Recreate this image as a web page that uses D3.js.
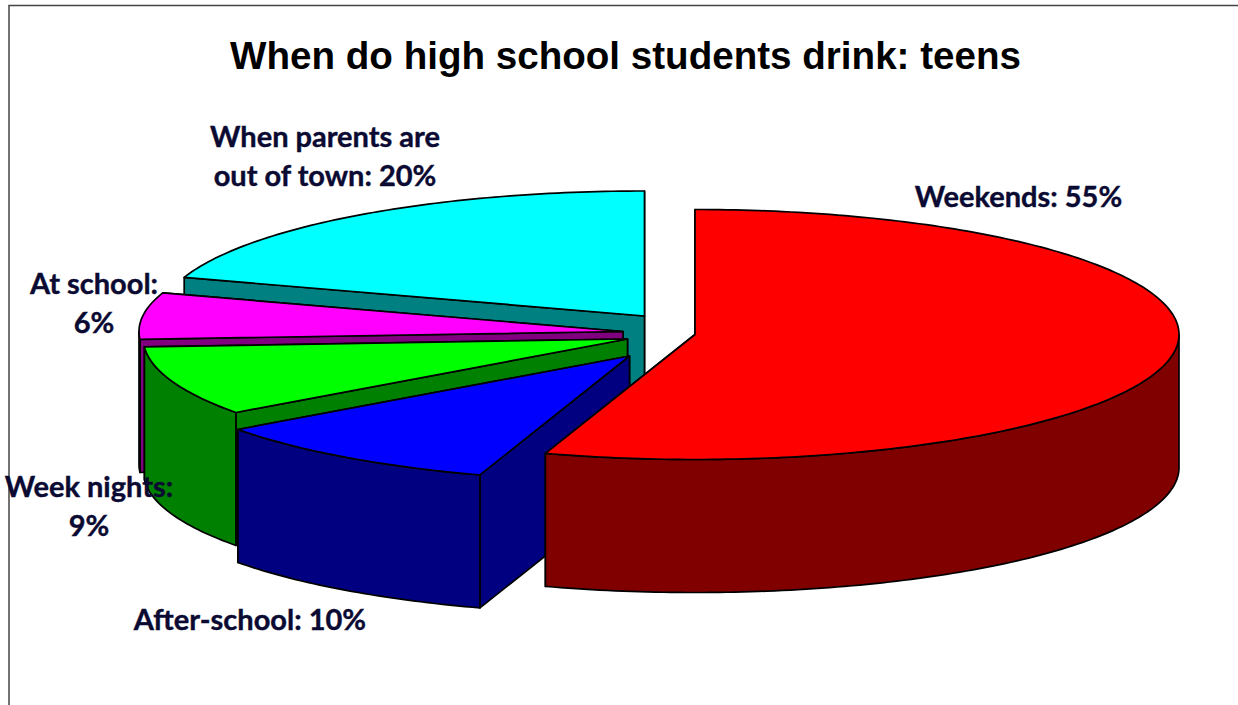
<!DOCTYPE html>
<html>
<head>
<meta charset="utf-8">
<title>When do high school students drink: teens</title>
<script src="https://d3js.org/d3.v7.min.js"></script>
<style>
  html, body { margin: 0; padding: 0; background: #fff; overflow: hidden; }
  svg { display: block; }
  .title { font: bold 38.6px "Liberation Sans", Arial, sans-serif; fill: #000; text-anchor: middle; }
  .label { font: bold 29px Lato, "Open Sans", sans-serif; fill: #0a0a32; stroke: #0a0a32; stroke-width: 0.4; text-anchor: middle; }
</style>
</head>
<body>
<div id="chart"></div>
<script>
  "use strict";

  // Values
  var categories = ['Weekends', 'After-school', 'Week nights', 'At school', 'When parents are out of town'];
  var shares = [55, 10, 9, 6, 20];
  var topColors = ['#ff0000', '#0000ff', '#00ff00', '#ff00ff', '#00ffff'];
  var wallColors = ['#800000', '#000080', '#008000', '#800080', '#008080'];

  var WIDTH = 1238, HEIGHT = 705;
  var RX = 484, RY = 125, DEPTH = 133;

  // Where the apex of each exploded slice ends up
  var apexX = [695, 629.5, 627.5, 623, 644.5];
  var apexY = [334.5, 356, 339, 331.5, 316];

  // Label lines and their anchor points, same order as categories
  var labelLines = [
    ['Weekends: 55%'],
    ['After-school: 10%'],
    ['Week nights:', '9%'],
    ['At school:', '6%'],
    ['When parents are', 'out of town: 20%']
  ];
  var labelX = [1018.5, 250, 89, 94, 325];
  var labelY = [207, 630, 497, 294, 147];

  var svg = d3.select('#chart')
      .append('svg')
      .attr('width', WIDTH)
      .attr('height', HEIGHT);

  // Frame of the chart area, open at the right and the bottom
  svg.append('path')
      .attr('d', 'M9,705V5.5H1238')
      .attr('fill', 'none')
      .attr('stroke', '#444')
      .attr('stroke-width', 1.5);

  svg.append('text')
      .attr('class', 'title')
      .attr('x', 625.5)
      .attr('y', 68.5)
      .text('When do high school students drink: teens');

  // Unit circle -> tilted ellipse
  var unitX = d3.scaleLinear().domain([-1, 1]).range([-RX, RX]);
  var unitY = d3.scaleLinear().domain([-1, 1]).range([-RY, RY]);

  var pie = d3.pie().sort(null);
  var slices = pie(shares);

  function rimPoint(i, angle) {
    return [apexX[i] + unitX(Math.sin(angle)), apexY[i] + unitY(-Math.cos(angle))];
  }

  function lowered(p) {
    return [p[0], p[1] + DEPTH];
  }

  function rimPoints(i, a0, a1) {
    var n = Math.max(2, Math.ceil((a1 - a0) * 60));
    return d3.range(n + 1).map(function(k) {
      return rimPoint(i, a0 + (a1 - a0) * k / n);
    });
  }

  function drawPolygon(points, fill) {
    svg.append('path')
        .attr('d', d3.line()(points) + 'Z')
        .attr('fill', fill)
        .attr('stroke', '#000')
        .attr('stroke-width', 1.7)
        .attr('stroke-linejoin', 'round');
  }

  /**
   * Draws one slice: the two cut faces (far one first), the part of the rim
   * wall that faces the viewer, and the top surface last.
   */
  function drawSlice(i) {
    var a0 = slices[i].startAngle, a1 = slices[i].endAngle;
    var apex = [apexX[i], apexY[i]];

    [a1, a0].forEach(function(angle) {
      var rim = rimPoint(i, angle);
      drawPolygon([apex, rim, lowered(rim), lowered(apex)], wallColors[i]);
    });

    var from = Math.max(a0, Math.PI / 2), to = Math.min(a1, Math.PI * 3 / 2);
    if (from < to) {
      var rim = rimPoints(i, from, to);
      drawPolygon(rim.concat(rim.map(lowered).reverse()), wallColors[i]);
    }

    drawPolygon([apex].concat(rimPoints(i, a0, a1)), topColors[i]);
  }

  // Back to front
  [4, 3, 2, 1, 0].forEach(drawSlice);

  categories.forEach(function(name, i) {
    var text = svg.append('text')
        .attr('class', 'label')
        .attr('x', labelX[i])
        .attr('y', labelY[i]);
    labelLines[i].forEach(function(line, k) {
      text.append('tspan')
          .attr('x', labelX[i])
          .attr('dy', k === 0 ? 0 : 39)
          .text(line);
    });
  });
</script>
</body>
</html>
